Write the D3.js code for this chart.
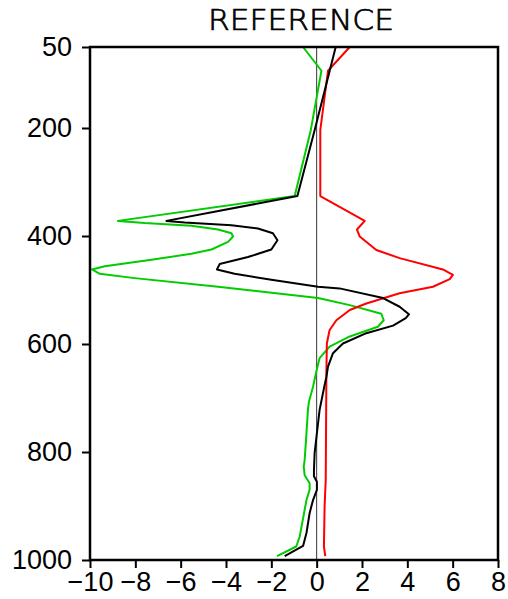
<!DOCTYPE html>
<html lang="en">

<head>
  <meta charset="UTF-8">
  <script src="https://d3js.org/d3.v7.min.js"></script>
  <style>
    body { margin: 0; background: #fff; }
  </style>
</head>

<body>
  <svg id="chart" width="508" height="599"></svg>

  <script>
    // values (pressure in hPa, x value)
    const xTicks = [-10, -8, -6, -4, -2, 0, 2, 4, 6, 8];
    const yTicks = [50, 200, 400, 600, 800, 1000];

    const greenP = [50, 94, 204, 326, 372, 376, 381, 388, 395, 401, 411, 425, 433, 444, 456, 462, 470, 478, 494,
      515, 528, 544, 556, 568, 586, 605, 626, 648, 679, 707, 719, 765, 815, 827, 843, 858, 870, 889, 957, 975, 993];
    const greenX = [-0.60, 0.21, -0.26, -0.97, -8.77, -7.59, -5.53, -4.35, -3.76, -3.69, -3.91, -4.64, -5.53, -7.29,
      -9.35, -9.91, -9.57, -8.03, -4.35, 0.06, 1.46, 2.85, 2.96, 2.70, 1.46, 0.57, 0.13, 0.0, -0.16, -0.34, -0.38,
      -0.45, -0.53, -0.57, -0.53, -0.31, -0.31, -0.45, -0.75, -0.90, -1.75];

    const blackP = [50, 204, 326, 372, 375, 380, 386, 395, 408, 425, 439, 452, 462, 470, 481, 489, 494, 497, 515,
      531, 545, 552, 566, 580, 599, 617, 642, 661, 676, 722, 765, 802, 835, 845, 855, 870, 889, 913, 950, 974, 993];
    const blackX = [0.84, -0.09, -0.85, -6.63, -5.82, -3.76, -2.59, -1.93, -1.73, -2.0, -3.03, -4.28, -4.40, -3.62,
      -2.0, -0.75, 0.06, 1.01, 2.93, 3.66, 4.07, 3.93, 3.37, 2.19, 1.16, 0.72, 0.50, 0.43, 0.35, 0.13, 0.01, -0.09,
      -0.12, -0.12, 0.01, 0.01, -0.16, -0.31, -0.45, -0.60, -1.41];

    const redP = [50, 94, 204, 326, 372, 388, 401, 426, 441, 462, 472, 480, 494, 506, 525, 537, 556, 574, 599, 648,
      852, 901, 975, 993];
    const redX = [1.46, 0.50, 0.16, 0.16, 2.12, 1.78, 1.90, 2.63, 3.66, 5.57, 6.01, 5.87, 5.13, 3.66, 2.19, 1.46,
      0.87, 0.57, 0.45, 0.43, 0.40, 0.35, 0.32, 0.38];

    const series = [
      { name: "green", color: "#00cc00", p: greenP, x: greenX },
      { name: "red", color: "#ff0000", p: redP, x: redX },
      { name: "black", color: "#000000", p: blackP, x: blackX }
    ];

    const svg = d3.select("#chart");
    const margins = { top: 47, right: 10, bottom: 39, left: 90 };
    const width = 498 - margins.left;
    const height = 560 - margins.top;

    const x = d3.scaleLinear().domain([-10, 8]).range([0, width]);
    const y = d3.scaleLinear().domain([50, 1000]).range([0, height]);

    const g = svg.append("g")
      .attr("transform", "translate(" + margins.left + "," + margins.top + ")");

    // zero line
    g.append("line")
      .attr("x1", x(0)).attr("x2", x(0))
      .attr("y1", 0).attr("y2", height)
      .attr("stroke", "#333")
      .attr("stroke-width", 1);

    const line = d3.line()
      .x(d => x(d[1]))
      .y(d => y(d[0]));

    series.forEach(s => {
      g.append("path")
        .datum(d3.zip(s.p, s.x))
        .attr("class", "profile-" + s.name)
        .attr("d", line)
        .attr("fill", "none")
        .attr("stroke", s.color)
        .attr("stroke-width", 2)
        .attr("stroke-linejoin", "round");
    });

    // frame
    g.append("rect")
      .attr("width", width).attr("height", height)
      .attr("fill", "none")
      .attr("stroke", "#000")
      .attr("stroke-width", 2.5);

    const xAxis = g.append("g")
      .attr("transform", "translate(0," + height + ")")
      .call(d3.axisBottom(x).tickValues(xTicks).tickSize(8).tickPadding(4).tickFormat(d3.format("d")));

    const yAxis = g.append("g")
      .call(d3.axisLeft(y).tickValues(yTicks).tickSize(8).tickPadding(10).tickFormat(d3.format("d")));

    [xAxis, yAxis].forEach(a => {
      a.select(".domain").remove();
      a.selectAll(".tick line").attr("stroke", "#000").attr("stroke-width", 2);
      a.selectAll(".tick text")
        .attr("fill", "#000")
        .style("font-family", "'Liberation Sans', Arial, sans-serif")
        .style("font-size", "27px");
    });

    svg.append("text")
      .attr("x", 301)
      .attr("y", 30)
      .attr("text-anchor", "middle")
      .attr("textLength", 186)
      .attr("lengthAdjust", "spacingAndGlyphs")
      .attr("fill", "#000")
      .attr("stroke", "#000")
      .attr("stroke-width", 0.7)
      .style("font-family", "'DejaVu Sans', sans-serif")
      .style("font-weight", 200)
      .style("font-size", "28px")
      .text("REFERENCE");
  </script>
</body>

</html>
